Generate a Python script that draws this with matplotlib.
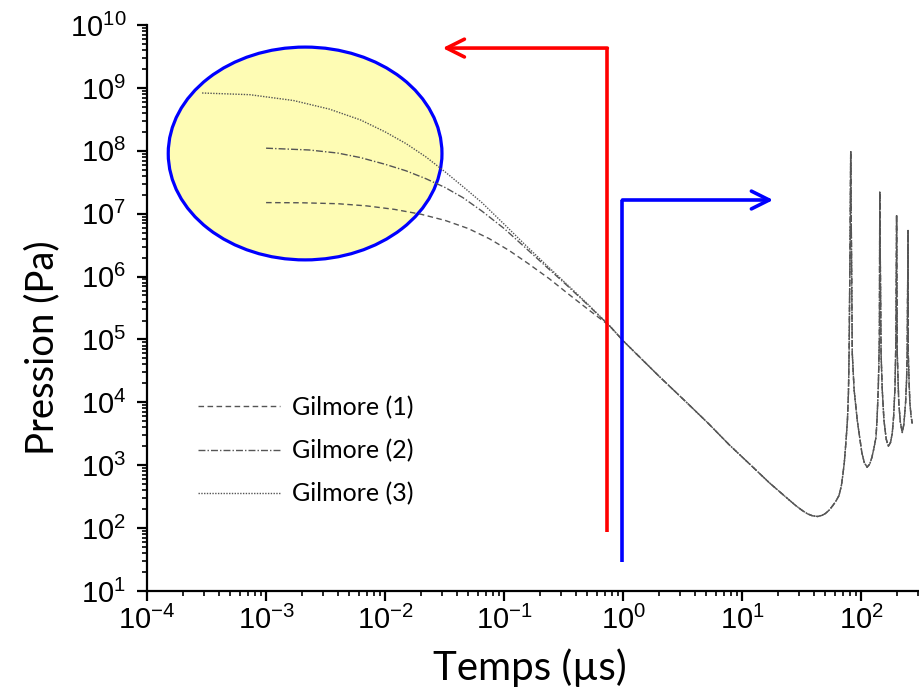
import numpy as np
import matplotlib
matplotlib.use("Agg")
import matplotlib.pyplot as plt
from matplotlib.patches import Ellipse

plt.rcParams['font.family'] = ['Liberation Sans', 'DejaVu Sans']
plt.rcParams['mathtext.fontset'] = 'custom'
plt.rcParams['mathtext.rm'] = 'Liberation Sans'
plt.rcParams['mathtext.it'] = 'Liberation Sans:italic'
plt.rcParams['mathtext.bf'] = 'Liberation Sans:bold'

# time (us) / pressure (Pa)
g1_t = [1e-3, 2e-3, 4e-3, 7e-3, 1.2e-2, 2e-2, 3.2e-2, 5e-2, 7.5e-2, 0.11, 0.16, 0.24, 0.35, 0.52]
g1_p = [1.5e7, 1.49e7, 1.44e7, 1.33e7, 1.17e7, 9.8e6, 7.8e6, 5.8e6, 4.0e6, 2.6e6, 1.6e6, 9.2e5, 5.2e5, 2.9e5]

g2_t = [1e-3, 2.3e-3, 4e-3, 6.2e-3, 1e-2, 1.5e-2, 2.2e-2, 3.2e-2, 4.5e-2, 6.5e-2, 0.1, 0.15, 0.22, 0.33, 0.5]
g2_p = [1.1e8, 1.03e8, 9.2e7, 7.8e7, 6.1e7, 4.8e7, 3.6e7, 2.6e7, 1.8e7, 1.1e7, 5.8e6, 2.9e6, 1.5e6, 7.5e5, 3.6e5]

g3_t = [2.9e-4, 7.3e-4, 1.7e-3, 3.4e-3, 6.2e-3, 1e-2, 1.5e-2, 2.2e-2, 3.2e-2, 4.5e-2, 6.5e-2, 0.1, 0.15, 0.22, 0.33, 0.5]
g3_p = [8.3e8, 7.8e8, 6.3e8, 4.6e8, 3.1e8, 2.0e8, 1.3e8, 8.0e7, 4.6e7, 2.7e7, 1.5e7, 6.8e6, 3.2e6, 1.6e6, 7.8e5, 3.7e5]

# common part after the curves merge
tail_t = [0.77, 1.0, 2.0, 3.4, 5.2, 7.8, 11.5, 16.9, 24.8, 28, 32, 35.5, 38.9, 43, 47, 50.2, 54, 57, 61, 65,
          68, 70, 72, 73.5, 75, 76.5, 78, 79, 80.4, 81.5,
          84, 87, 92.5, 101, 106, 112, 118, 123, 128, 133, 136, 139, 142, 143,
          146.6, 150, 155, 162, 169, 176, 182, 187, 192, 195.5, 198,
          200.5, 206.5, 213, 221, 228, 235.5, 240, 243, 247, 248, 252, 256, 262, 268]
tail_p = [1.64e5, 9.5e4, 2.6e4, 1.0e4, 4.6e3, 2.1e3, 1.05e3, 525, 280, 230, 190, 168, 157, 153, 160, 172, 195, 222, 265, 330,
          470, 700, 1.1e3, 1.8e3, 3e3, 5.2e3, 1.4e4, 6.1e4, 2.6e6, 1.0e8,
          6.1e4, 1.6e4, 5.2e3, 1.6e3, 1.1e3, 930, 1.05e3, 1.35e3, 1.9e3, 2.8e3, 6e3, 1.76e4, 1.1e5, 2.2e7,
          6.1e4, 1.6e4, 5.2e3, 2.6e3, 2.0e3, 2.3e3, 3.2e3, 6e3, 1.76e4, 1.1e5, 9.3e6,
          6.1e4, 9.8e3, 4.8e3, 3.3e3, 4.5e3, 9.8e3, 2.2e4, 6.1e4, 5.4e6, 6.1e4, 2.2e4, 9.8e3, 6e3, 4.6e3]

labels = ['Gilmore (1)', 'Gilmore (2)', 'Gilmore (3)']
styles = [(0, (4, 2.5)), (0, (5, 1.5, 1, 1.5)), (0, (1, 1))]
line_color = '#555555'

fig = plt.figure(figsize=(9.19, 6.93), dpi=100)
ax = fig.add_axes([0.160, 0.1472, 0.839, 0.8167])

# annotation ellipse (behind the curves)
ell = Ellipse((0.205, 0.773), 0.355, 0.376, transform=ax.transAxes,
              facecolor='#FEFCB4', edgecolor='#0000FF', lw=2.3, zorder=1)
ax.add_patch(ell)

for (t, p), lab, ls in zip([(g1_t, g1_p), (g2_t, g2_p), (g3_t, g3_p)], labels, styles):
    ax.plot(list(t) + tail_t, list(p) + tail_p, color=line_color, lw=1.0,
            linestyle=ls, label=lab, zorder=3)

ax.set_xscale('log')
ax.set_yscale('log')
ax.set_xlim(1e-4, 300)
ax.set_ylim(10, 1e10)

# red and blue arrows
ax.plot([0.736, 0.736], [87, 4.3e9], color='#FF0000', lw=2.6, zorder=5, solid_capstyle='butt')
ax.annotate('', xy=(0.0304, 4.3e9), xytext=(0.736, 4.3e9),
            arrowprops=dict(arrowstyle='->', color='#FF0000', lw=2.6, mutation_scale=32,
                            shrinkA=0, shrinkB=0), zorder=5)
ax.plot([0.985, 0.985], [29, 1.65e7], color='#0000FF', lw=2.6, zorder=5, solid_capstyle='butt')
ax.annotate('', xy=(18.2, 1.65e7), xytext=(0.985, 1.65e7),
            arrowprops=dict(arrowstyle='->', color='#0000FF', lw=2.6, mutation_scale=32,
                            shrinkA=0, shrinkB=0), zorder=5)

for s in ['top', 'right']:
    ax.spines[s].set_visible(False)
for s in ['left', 'bottom']:
    ax.spines[s].set_linewidth(1.6)

ax.tick_params(which='major', direction='out', length=7, width=1.6, labelsize=21)
ax.tick_params(axis='x', which='major', pad=4)
ax.tick_params(axis='y', which='major', pad=8)
ax.tick_params(which='minor', direction='out', length=3.8, width=1.2)
ax.xaxis.set_major_locator(matplotlib.ticker.LogLocator(base=10, numticks=20))
ax.yaxis.set_major_locator(matplotlib.ticker.LogLocator(base=10, numticks=20))
ax.xaxis.set_minor_locator(matplotlib.ticker.LogLocator(base=10, subs=np.arange(2, 10), numticks=20))
ax.yaxis.set_minor_locator(matplotlib.ticker.LogLocator(base=10, subs=np.arange(2, 10), numticks=20))
ax.xaxis.set_minor_formatter(matplotlib.ticker.NullFormatter())
ax.yaxis.set_minor_formatter(matplotlib.ticker.NullFormatter())

ax.set_xlabel('Temps (µs)', fontsize=29, family=['Lato', 'DejaVu Sans'])
ax.set_ylabel('Pression (Pa)', fontsize=27.5, family=['Lato', 'DejaVu Sans'])
ax.xaxis.set_label_coords(0.497, -0.102)
ax.yaxis.set_label_coords(-0.112, 0.43)

leg = ax.legend(loc='upper left', bbox_to_anchor=(0.066, 0.345), frameon=False,
                handlelength=3.3, handletextpad=0.48, labelspacing=0.8,
                borderpad=0, borderaxespad=0,
                prop={'family': ['Lato', 'DejaVu Sans'], 'size': 18})

fig.savefig('out.png', dpi=100)
